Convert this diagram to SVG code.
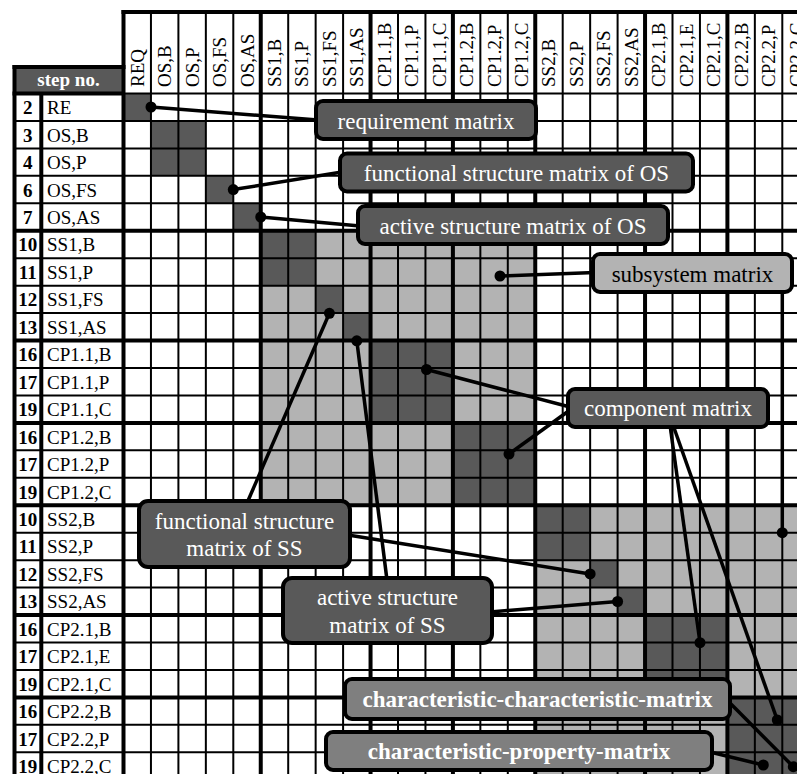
<svg xmlns="http://www.w3.org/2000/svg" width="797" height="774" viewBox="0 0 797 774" font-family="'Liberation Serif', 'DejaVu Serif', serif">
<style>
.thin{stroke:#000;stroke-width:2}
.thick{stroke:#000;stroke-width:4}
.dk{fill:#595959}
.lt{fill:#b3b3b3}
text{font-family:'Liberation Serif','DejaVu Serif',serif}
.lbl{font-size:19px;fill:#000}
.num{font-size:19px;font-weight:bold;fill:#000;text-anchor:middle}
.box{stroke:#000;stroke-width:4}
.ct{font-size:23px;fill:#fff;text-anchor:middle}
.cb{font-size:23px;font-weight:bold;fill:#fff;text-anchor:middle}
.conn{stroke:#000;stroke-width:3.5;fill:none}
</style>
<rect width="797" height="774" fill="#fff"/>
<g id="matrix">
<g id="fills">
<rect class="lt" x="260.75" y="230.75" width="274.5" height="274.5"/>
<rect class="lt" x="535.25" y="505.25" width="274.5" height="274.5"/>
<rect class="dk" x="123.5" y="93.5" width="27.45" height="27.45"/>
<rect class="dk" x="150.95" y="120.95" width="54.9" height="54.9"/>
<rect class="dk" x="205.85" y="175.85" width="27.45" height="27.45"/>
<rect class="dk" x="233.3" y="203.3" width="27.45" height="27.45"/>
<rect class="dk" x="260.75" y="230.75" width="54.9" height="54.9"/>
<rect class="dk" x="315.65" y="285.65" width="27.45" height="27.45"/>
<rect class="dk" x="343.1" y="313.1" width="27.45" height="27.45"/>
<rect class="dk" x="370.55" y="340.55" width="82.35" height="82.35"/>
<rect class="dk" x="452.9" y="422.9" width="82.35" height="82.35"/>
<rect class="dk" x="535.25" y="505.25" width="54.9" height="54.9"/>
<rect class="dk" x="590.15" y="560.15" width="27.45" height="27.45"/>
<rect class="dk" x="617.6" y="587.6" width="27.45" height="27.45"/>
<rect class="dk" x="645.05" y="615.05" width="82.35" height="82.35"/>
<rect class="dk" x="727.4" y="697.4" width="82.35" height="82.35"/>
<rect class="dk" x="14.5" y="67" width="109" height="26.5"/>
</g>
<g id="gridlines">
<line class="thin" x1="150.95" y1="12" x2="150.95" y2="774"/>
<line class="thin" x1="178.4" y1="12" x2="178.4" y2="774"/>
<line class="thin" x1="205.85" y1="12" x2="205.85" y2="774"/>
<line class="thin" x1="233.3" y1="12" x2="233.3" y2="774"/>
<line class="thin" x1="288.2" y1="12" x2="288.2" y2="774"/>
<line class="thin" x1="315.65" y1="12" x2="315.65" y2="774"/>
<line class="thin" x1="343.1" y1="12" x2="343.1" y2="774"/>
<line class="thin" x1="398" y1="12" x2="398" y2="774"/>
<line class="thin" x1="425.45" y1="12" x2="425.45" y2="774"/>
<line class="thin" x1="480.35" y1="12" x2="480.35" y2="774"/>
<line class="thin" x1="507.8" y1="12" x2="507.8" y2="774"/>
<line class="thin" x1="562.7" y1="12" x2="562.7" y2="774"/>
<line class="thin" x1="590.15" y1="12" x2="590.15" y2="774"/>
<line class="thin" x1="617.6" y1="12" x2="617.6" y2="774"/>
<line class="thin" x1="672.5" y1="12" x2="672.5" y2="774"/>
<line class="thin" x1="699.95" y1="12" x2="699.95" y2="774"/>
<line class="thin" x1="754.85" y1="12" x2="754.85" y2="774"/>
<line class="thin" x1="782.3" y1="12" x2="782.3" y2="774"/>
<line class="thick" x1="123.5" y1="10" x2="123.5" y2="774"/>
<line class="thick" x1="260.75" y1="12" x2="260.75" y2="774"/>
<line class="thick" x1="370.55" y1="12" x2="370.55" y2="774"/>
<line class="thick" x1="452.9" y1="12" x2="452.9" y2="774"/>
<line class="thick" x1="535.25" y1="12" x2="535.25" y2="774"/>
<line class="thick" x1="645.05" y1="12" x2="645.05" y2="774"/>
<line class="thick" x1="727.4" y1="12" x2="727.4" y2="774"/>
<line class="thick" x1="121.5" y1="12" x2="797" y2="12"/>
<line class="thin" x1="123.5" y1="93.5" x2="797" y2="93.5"/>
<line class="thick" x1="12.5" y1="93.5" x2="123.5" y2="93.5"/>
<line class="thick" x1="12.5" y1="67" x2="125.5" y2="67"/>
<line class="thick" x1="14.5" y1="65" x2="14.5" y2="774"/>
<line class="thick" x1="41.3" y1="93.5" x2="41.3" y2="774"/>
<line class="thin" x1="14.5" y1="120.95" x2="797" y2="120.95"/>
<line class="thin" x1="14.5" y1="148.4" x2="797" y2="148.4"/>
<line class="thin" x1="14.5" y1="175.85" x2="797" y2="175.85"/>
<line class="thin" x1="14.5" y1="203.3" x2="797" y2="203.3"/>
<line class="thin" x1="14.5" y1="258.2" x2="797" y2="258.2"/>
<line class="thin" x1="14.5" y1="285.65" x2="797" y2="285.65"/>
<line class="thin" x1="14.5" y1="313.1" x2="797" y2="313.1"/>
<line class="thin" x1="14.5" y1="368" x2="797" y2="368"/>
<line class="thin" x1="14.5" y1="395.45" x2="797" y2="395.45"/>
<line class="thin" x1="14.5" y1="450.35" x2="797" y2="450.35"/>
<line class="thin" x1="14.5" y1="477.8" x2="797" y2="477.8"/>
<line class="thin" x1="14.5" y1="532.7" x2="797" y2="532.7"/>
<line class="thin" x1="14.5" y1="560.15" x2="797" y2="560.15"/>
<line class="thin" x1="14.5" y1="587.6" x2="797" y2="587.6"/>
<line class="thin" x1="14.5" y1="642.5" x2="797" y2="642.5"/>
<line class="thin" x1="14.5" y1="669.95" x2="797" y2="669.95"/>
<line class="thin" x1="14.5" y1="724.85" x2="797" y2="724.85"/>
<line class="thin" x1="14.5" y1="752.3" x2="797" y2="752.3"/>
<line class="thick" x1="14.5" y1="230.75" x2="797" y2="230.75"/>
<line class="thick" x1="14.5" y1="340.55" x2="797" y2="340.55"/>
<line class="thick" x1="14.5" y1="422.9" x2="797" y2="422.9"/>
<line class="thick" x1="14.5" y1="505.25" x2="797" y2="505.25"/>
<line class="thick" x1="14.5" y1="615.05" x2="797" y2="615.05"/>
<line class="thick" x1="14.5" y1="697.4" x2="797" y2="697.4"/>
</g>
<g id="row-header">
<text x="68.5" y="86" class="num" style="fill:#fff">step no.</text>
<text class="num" x="27.8" y="114.2">2</text>
<text class="num" x="27.8" y="141.65">3</text>
<text class="num" x="27.8" y="169.1">4</text>
<text class="num" x="27.8" y="196.55">6</text>
<text class="num" x="27.8" y="224">7</text>
<text class="num" x="27.8" y="251.45">10</text>
<text class="num" x="27.8" y="278.9">11</text>
<text class="num" x="27.8" y="306.35">12</text>
<text class="num" x="27.8" y="333.8">13</text>
<text class="num" x="27.8" y="361.25">16</text>
<text class="num" x="27.8" y="388.7">17</text>
<text class="num" x="27.8" y="416.15">19</text>
<text class="num" x="27.8" y="443.6">16</text>
<text class="num" x="27.8" y="471.05">17</text>
<text class="num" x="27.8" y="498.5">19</text>
<text class="num" x="27.8" y="525.95">10</text>
<text class="num" x="27.8" y="553.4">11</text>
<text class="num" x="27.8" y="580.85">12</text>
<text class="num" x="27.8" y="608.3">13</text>
<text class="num" x="27.8" y="635.75">16</text>
<text class="num" x="27.8" y="663.2">17</text>
<text class="num" x="27.8" y="690.65">19</text>
<text class="num" x="27.8" y="718.1">16</text>
<text class="num" x="27.8" y="745.55">17</text>
<text class="num" x="27.8" y="773">19</text>
<text class="lbl" x="47" y="114.2">RE</text>
<text class="lbl" x="47" y="141.65">OS,B</text>
<text class="lbl" x="47" y="169.1">OS,P</text>
<text class="lbl" x="47" y="196.55">OS,FS</text>
<text class="lbl" x="47" y="224">OS,AS</text>
<text class="lbl" x="47" y="251.45">SS1,B</text>
<text class="lbl" x="47" y="278.9">SS1,P</text>
<text class="lbl" x="47" y="306.35">SS1,FS</text>
<text class="lbl" x="47" y="333.8">SS1,AS</text>
<text class="lbl" x="47" y="361.25">CP1.1,B</text>
<text class="lbl" x="47" y="388.7">CP1.1,P</text>
<text class="lbl" x="47" y="416.15">CP1.1,C</text>
<text class="lbl" x="47" y="443.6">CP1.2,B</text>
<text class="lbl" x="47" y="471.05">CP1.2,P</text>
<text class="lbl" x="47" y="498.5">CP1.2,C</text>
<text class="lbl" x="47" y="525.95">SS2,B</text>
<text class="lbl" x="47" y="553.4">SS2,P</text>
<text class="lbl" x="47" y="580.85">SS2,FS</text>
<text class="lbl" x="47" y="608.3">SS2,AS</text>
<text class="lbl" x="47" y="635.75">CP2.1,B</text>
<text class="lbl" x="47" y="663.2">CP2.1,E</text>
<text class="lbl" x="47" y="690.65">CP2.1,C</text>
<text class="lbl" x="47" y="718.1">CP2.2,B</text>
<text class="lbl" x="47" y="745.55">CP2.2,P</text>
<text class="lbl" x="47" y="773">CP2.2,C</text>
</g>
<g id="column-header">
<text class="lbl" transform="translate(143.7,87) rotate(-90)">REQ</text>
<text class="lbl" transform="translate(171.15,87) rotate(-90)">OS,B</text>
<text class="lbl" transform="translate(198.6,87) rotate(-90)">OS,P</text>
<text class="lbl" transform="translate(226.05,87) rotate(-90)">OS,FS</text>
<text class="lbl" transform="translate(253.5,87) rotate(-90)">OS,AS</text>
<text class="lbl" transform="translate(280.95,87) rotate(-90)">SS1,B</text>
<text class="lbl" transform="translate(308.4,87) rotate(-90)">SS1,P</text>
<text class="lbl" transform="translate(335.85,87) rotate(-90)">SS1,FS</text>
<text class="lbl" transform="translate(363.3,87) rotate(-90)">SS1,AS</text>
<text class="lbl" transform="translate(390.75,87) rotate(-90)">CP1.1,B</text>
<text class="lbl" transform="translate(418.2,87) rotate(-90)">CP1.1,P</text>
<text class="lbl" transform="translate(445.65,87) rotate(-90)">CP1.1,C</text>
<text class="lbl" transform="translate(473.1,87) rotate(-90)">CP1.2,B</text>
<text class="lbl" transform="translate(500.55,87) rotate(-90)">CP1.2,P</text>
<text class="lbl" transform="translate(528,87) rotate(-90)">CP1.2,C</text>
<text class="lbl" transform="translate(555.45,87) rotate(-90)">SS2,B</text>
<text class="lbl" transform="translate(582.9,87) rotate(-90)">SS2,P</text>
<text class="lbl" transform="translate(610.35,87) rotate(-90)">SS2,FS</text>
<text class="lbl" transform="translate(637.8,87) rotate(-90)">SS2,AS</text>
<text class="lbl" transform="translate(665.25,87) rotate(-90)">CP2.1,B</text>
<text class="lbl" transform="translate(692.7,87) rotate(-90)">CP2.1,E</text>
<text class="lbl" transform="translate(720.15,87) rotate(-90)">CP2.1,C</text>
<text class="lbl" transform="translate(747.6,87) rotate(-90)">CP2.2,B</text>
<text class="lbl" transform="translate(775.05,87) rotate(-90)">CP2.2,P</text>
<text class="lbl" transform="translate(802.5,87) rotate(-90)">CP2.2,C</text>
</g>
</g>
<g id="connectors">
<path class="conn" d="M151,107 L318,120"/>
<path class="conn" d="M233.3,189.6 L342,172"/>
<path class="conn" d="M260.75,217 L360,226"/>
<path class="conn" d="M500,276 L595,272.5"/>
<path class="conn" d="M782.3,292 L782.3,532.7"/>
<path class="conn" d="M426.5,369.5 L570,407"/>
<path class="conn" d="M509,454 L570,410"/>
<path class="conn" d="M670,425 L700,642.7"/>
<path class="conn" d="M673,425 L777.3,720"/>
<path class="conn" d="M728,701 L793.3,766.7"/>
<path class="conn" d="M710,752 L763.3,765"/>
<path class="conn" d="M247,503 L329.4,313.3"/>
<path class="conn" d="M348,535 L590.15,573.9"/>
<path class="conn" d="M387,580 L356.8,340.8"/>
<path class="conn" d="M490,612 L617.6,601.5"/>
<g fill="#000">
<circle cx="151" cy="107" r="5.5"/>
<circle cx="233.3" cy="189.6" r="5.5"/>
<circle cx="260.75" cy="217" r="5.5"/>
<circle cx="500" cy="276" r="5.5"/>
<circle cx="782.3" cy="532.7" r="5.5"/>
<circle cx="426.5" cy="369.5" r="5.5"/>
<circle cx="509" cy="454" r="5.5"/>
<circle cx="700" cy="642.7" r="5.5"/>
<circle cx="777.3" cy="720" r="5.5"/>
<circle cx="793.3" cy="766.7" r="5.5"/>
<circle cx="763.3" cy="765" r="5.5"/>
<circle cx="329.4" cy="313.3" r="5.5"/>
<circle cx="590.15" cy="573.9" r="5.5"/>
<circle cx="356.8" cy="340.8" r="5.5"/>
<circle cx="617.6" cy="601.5" r="5.5"/>
</g>
</g>
<g id="requirement-matrix">
<rect class="box dk" x="316" y="101" width="220" height="38" rx="7"/>
<text class="ct" x="426" y="128.5">requirement matrix</text>
</g>
<g id="functional-structure-matrix-of-OS">
<rect class="box dk" x="340" y="153.5" width="353" height="38" rx="7"/>
<text class="ct" x="516.5" y="181">functional structure matrix of OS</text>
</g>
<g id="active-structure-matrix-of-OS">
<rect class="box dk" x="358" y="206" width="310" height="38" rx="7"/>
<text class="ct" x="513" y="233.5">active structure matrix of OS</text>
</g>
<g id="subsystem-matrix">
<rect class="box lt" x="593" y="254" width="199" height="38" rx="7"/>
<text class="ct" x="692.5" y="281.5" style="fill:#000">subsystem matrix</text>
</g>
<g id="component-matrix">
<rect class="box dk" x="568" y="389" width="200" height="38" rx="7"/>
<text class="ct" x="668" y="415.5">component matrix</text>
</g>
<g id="functional-structure-matrix-of-SS">
<rect class="box dk" x="139" y="501" width="211" height="66" rx="9"/>
<text class="ct" x="244.5" y="528.5">functional structure</text>
<text class="ct" x="244.5" y="556">matrix of SS</text>
</g>
<g id="active-structure-matrix-of-SS">
<rect class="box dk" x="283" y="578" width="209" height="65" rx="9"/>
<text class="ct" x="387.5" y="605">active structure</text>
<text class="ct" x="387.5" y="633">matrix of SS</text>
</g>
<g id="characteristic-characteristic-matrix">
<rect class="box" fill="#7f7f7f" x="345" y="679" width="385" height="40" rx="7"/>
<text class="cb" x="537.5" y="707">characteristic-characteristic-matrix</text>
</g>
<g id="characteristic-property-matrix">
<rect class="box" fill="#7f7f7f" x="326" y="732" width="386" height="38" rx="7"/>
<text class="cb" x="519" y="758.5">characteristic-property-matrix</text>
</g>
</svg>
